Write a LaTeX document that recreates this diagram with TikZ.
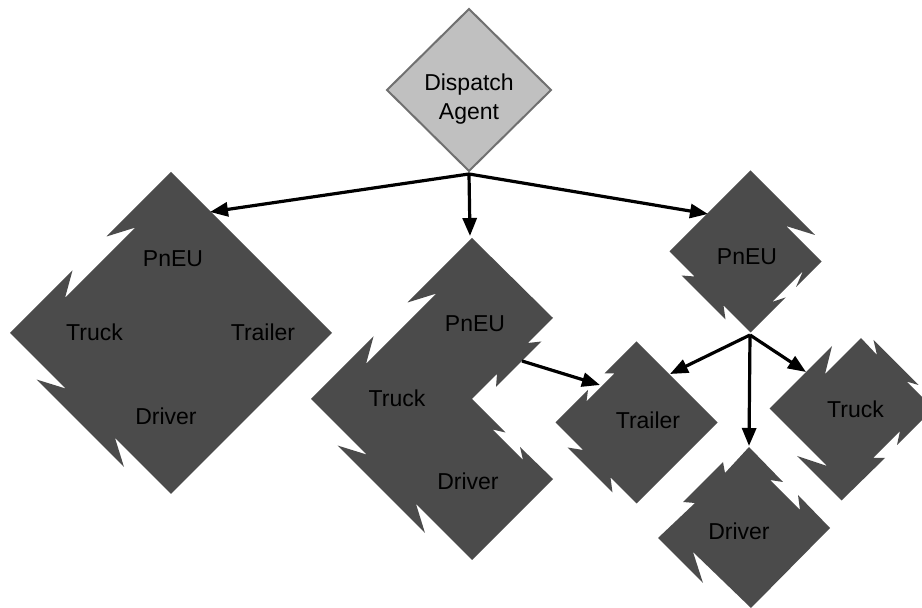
\documentclass[tikz,border=0pt]{standalone}
\usepackage{fontspec}
\setmainfont{Liberation Sans}
\usetikzlibrary{arrows.meta}

\definecolor{piecegray}{RGB}{75,75,75}
\definecolor{agentfill}{RGB}{192,192,192}
\definecolor{agentline}{RGB}{112,112,112}

\tikzset{
  piece/.style={fill=piecegray},
  lbl/.style={font=\fontsize{11.5}{14.4}\selectfont, inner sep=0.75pt},
  link/.style={line width=1.6pt, -{Triangle[length=9pt,width=7pt]}}
}

\begin{document}
\begin{tikzpicture}[x=0.5pt,y=0.5pt,yscale=-1,xscale=1]
\useasboundingbox (0,0) rectangle (922,608);

%Shape: Diamond [dispatch agent]
\draw [fill=agentfill, draw=agentline, line width=1pt] (469,9) -- (551,90) -- (469,171) -- (387,90) -- cycle ;

%Shape: Torn Diamond [whole unit]
\fill [piece] (171,172) -- (106.5,236.5) -- (135.5,227.5) -- (65,298) -- (72.5,270.5) -- (10,333) -- (65.5,388.5) -- (36.5,379.5) -- (124,467) -- (115,438) -- (171,494) -- (332,333) -- cycle ;
%Shape: Torn Diamond [unit without trailer]
\fill [piece] (472,238) -- (407.5,302.5) -- (436.5,293.5) -- (366,364) -- (373.5,336.5) -- (311,399) -- (366.5,454.5) -- (337.5,445.5) -- (425,533) -- (416,504) -- (472,560) -- (553,479) -- (520,447) -- (523,460) -- (492.5,429.5) -- (505.5,432.5) -- (472,399) -- (497,374) -- (496,387) -- (541.5,341.5) -- (528,343) -- (553,318) -- cycle ;
%Shape: Torn Diamond [pneu alone]
\fill [piece] (750.5,170.5) -- (669.5,251.5) -- (694.5,276.5) -- (681.5,275.5) -- (725.5,319.5) -- (723.5,305.5) -- (750.5,332.5) -- (785.5,297.5) -- (772,302) -- (803,271) -- (796,287) -- (821.5,261.5) -- (786,226) -- (815,235) -- cycle ;
%Shape: Torn Diamond [trailer alone]
\fill [piece] (636.5,341.5) -- (604.5,373.5) -- (614.5,373.5) -- (586.5,401.5) -- (588,390) -- (555.5,422.5) -- (583,450) -- (567.5,447.5) -- (612.5,492.5) -- (610.5,477.5) -- (636.5,503.5) -- (717.5,422.5) -- cycle ;
%Shape: Torn Diamond [truck alone]
\fill [piece] (861,338) -- (825,374) -- (832,346) -- (769.5,408.5) -- (827,466) -- (797,456) -- (841.5,500.5) -- (885,458) -- (873,458) -- (900,431) -- (897,445) -- (933.5,408.5) -- (906.5,381.5) -- (918.5,385) -- (873.5,340) -- (877,355) -- cycle ;
%Shape: Torn Diamond [driver alone]
\fill [piece] (749,447) -- (725,473) -- (723,462) -- (683,502) -- (695,503) -- (658,538) -- (703,583) -- (693,552) -- (751,608) -- (830,528) -- (798,495) -- (800,510) -- (770,480) -- (783,482) -- cycle ;

% Text Node
\node [lbl, align=center] (agent) at (469,99) {Dispatch\\Agent};
% Text Node
\node [lbl] (pneuA) at (173,259) {PnEU};
\node [lbl] (truckA) at (94.5,332.5) {Truck};
\node [lbl] (trailerA) at (263,332) {Trailer};
\node [lbl] (driverA) at (166,416) {Driver};
% Text Node
\node [lbl] (pneuB) at (475,324) {PnEU};
\node [lbl] (truckB) at (397,398) {Truck};
\node [lbl] (driverB) at (468,481) {Driver};
% Text Node
\node [lbl] (pneuC) at (747,257) {PnEU};
\node [lbl] (trailerC) at (648,420) {Trailer};
\node [lbl] (truckC) at (855.5,409) {Truck};
\node [lbl] (driverC) at (739,531.5) {Driver};

%Straight Lines
\coordinate (agentout) at (469,174);
\coordinate (unitA) at (210,212);
\coordinate (unitB) at (470,236);
\coordinate (unitC) at (708,214);
\coordinate (unitBout) at (522,361);
\coordinate (pneuCout) at (750,335);
\coordinate (trailerCin) at (600,385);
\coordinate (trailerCtop) at (670,374);
\coordinate (truckCin) at (806,372);
\coordinate (driverCin) at (749,446);

\draw [link] (agentout) -- (unitA) ;
\draw [link] (agentout) -- (unitB) ;
\draw [link] (agentout) -- (unitC) ;
\draw [link] (unitBout) -- (trailerCin) ;
\draw [link] (pneuCout) -- (trailerCtop) ;
\draw [link] (pneuCout) -- (driverCin) ;
\draw [link] (pneuCout) -- (truckCin) ;

\end{tikzpicture}
\end{document}
